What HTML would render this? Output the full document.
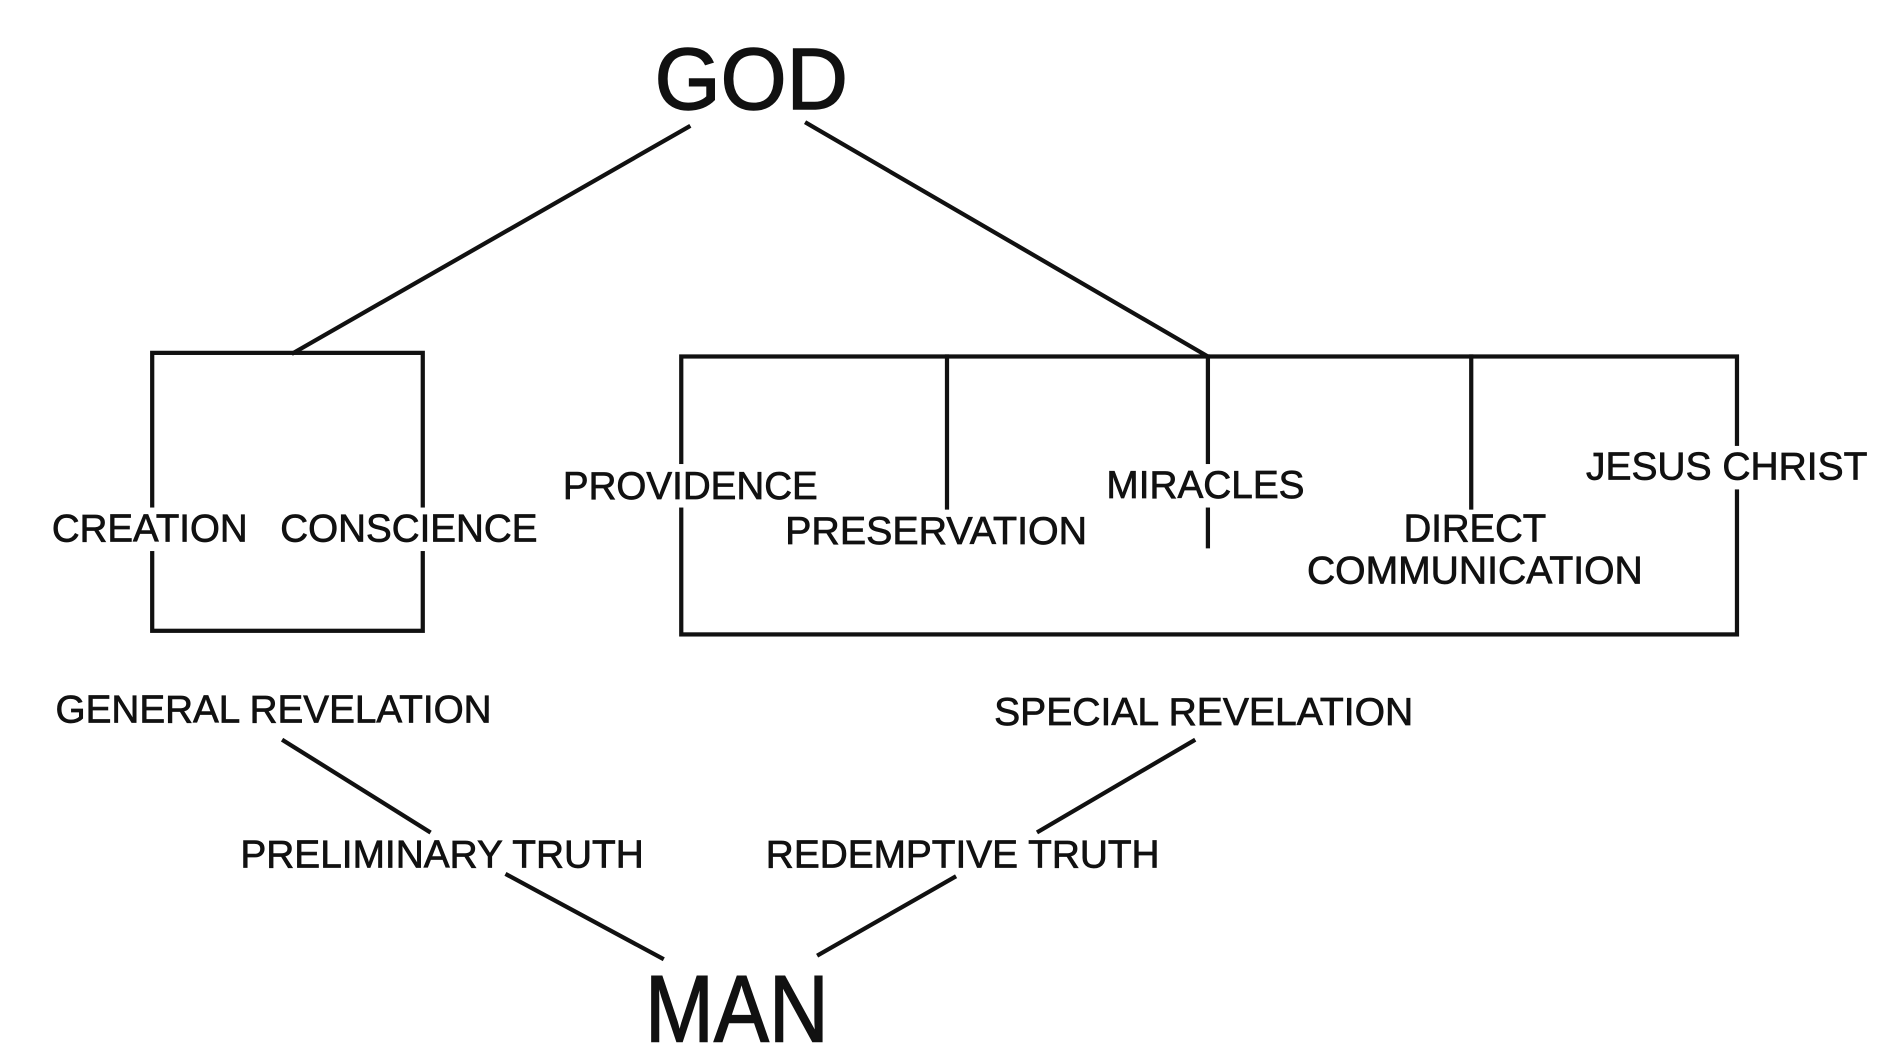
<!DOCTYPE html>
<html><head><meta charset="utf-8"><style>
html,body{margin:0;padding:0;background:#fff;}
svg{display:block;}
text{font-family:"Liberation Sans",Arial,sans-serif;fill:#111;stroke:#111;stroke-width:0.6;}
</style></head><body>
<svg width="1894" height="1061" viewBox="0 0 1568 878" preserveAspectRatio="none" xmlns="http://www.w3.org/2000/svg">
<g stroke="#111" stroke-width="3.5" fill="none" stroke-linecap="square">
<line x1="570" y1="105" x2="243" y2="292"/>
<line x1="668" y1="102" x2="1000" y2="295"/>
<rect x="126" y="292" width="224" height="230"/>
<rect x="564" y="295" width="874" height="230"/>
<line x1="784" y1="295" x2="784" y2="420"/>
<line x1="1000" y1="295" x2="1000" y2="452"/>
<line x1="1218" y1="295" x2="1218" y2="420"/>
<line x1="235" y1="613" x2="355" y2="688"/>
<line x1="420" y1="724" x2="548" y2="793"/>
<line x1="988" y1="613" x2="860" y2="688"/>
<line x1="790" y1="726" x2="678" y2="790"/>
</g>
<g>
<rect x="40" y="420" width="168" height="36" fill="#fff"/>
<rect x="229" y="420" width="219" height="36" fill="#fff"/>
<rect x="463" y="384" width="217" height="36" fill="#fff"/>
<rect x="647" y="422" width="256" height="36" fill="#fff"/>
<rect x="913" y="384" width="170" height="36" fill="#fff"/>
<rect x="1310" y="369" width="239" height="36" fill="#fff"/>
</g>
<text x="622" y="90" font-size="72" text-anchor="middle" textLength="160" lengthAdjust="spacingAndGlyphs" style="stroke-width:1.2">GOD</text>
<text x="43" y="448" font-size="32" textLength="162" lengthAdjust="spacingAndGlyphs">CREATION</text>
<text x="232" y="448" font-size="32" textLength="213" lengthAdjust="spacingAndGlyphs">CONSCIENCE</text>
<text x="466" y="413" font-size="32" textLength="211" lengthAdjust="spacingAndGlyphs">PROVIDENCE</text>
<text x="650" y="450" font-size="32" textLength="250" lengthAdjust="spacingAndGlyphs">PRESERVATION</text>
<text x="916" y="412" font-size="32" textLength="164" lengthAdjust="spacingAndGlyphs">MIRACLES</text>
<text x="1162" y="448" font-size="32" textLength="118" lengthAdjust="spacingAndGlyphs">DIRECT</text>
<text x="1082" y="483" font-size="32" textLength="278" lengthAdjust="spacingAndGlyphs">COMMUNICATION</text>
<text x="1313" y="397" font-size="32" textLength="233" lengthAdjust="spacingAndGlyphs">JESUS CHRIST</text>
<text x="46" y="598" font-size="32" textLength="361" lengthAdjust="spacingAndGlyphs">GENERAL REVELATION</text>
<text x="823" y="600" font-size="32" textLength="347" lengthAdjust="spacingAndGlyphs">SPECIAL REVELATION</text>
<text x="199" y="718" font-size="32" textLength="334" lengthAdjust="spacingAndGlyphs">PRELIMINARY TRUTH</text>
<text x="634" y="718" font-size="32" textLength="326" lengthAdjust="spacingAndGlyphs">REDEMPTIVE TRUTH</text>
<text x="610" y="862" font-size="78" text-anchor="middle" textLength="152" lengthAdjust="spacingAndGlyphs" style="stroke-width:1.2">MAN</text>
</svg>
</body></html>
